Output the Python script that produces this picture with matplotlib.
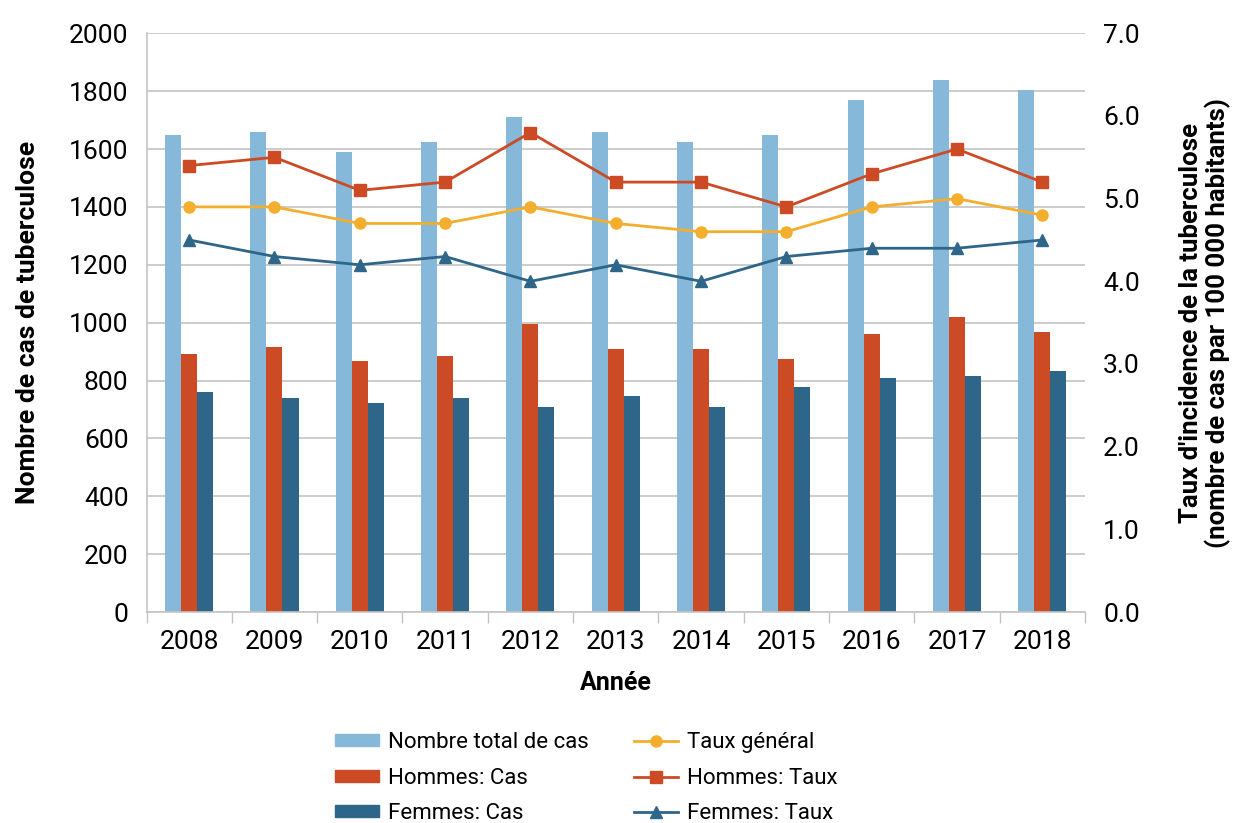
import numpy as np
import matplotlib
matplotlib.use("Agg")
import matplotlib.pyplot as plt
from matplotlib.lines import Line2D
from matplotlib.patches import Patch

plt.rcParams['font.family'] = ['Roboto', 'DejaVu Sans']

annees = ['2008', '2009', '2010', '2011', '2012', '2013', '2014', '2015', '2016', '2017', '2018']
total_cas = [1648, 1659, 1590, 1624, 1710, 1659, 1624, 1648, 1769, 1838, 1803]
hommes_cas = [893, 917, 869, 886, 997, 910, 910, 876, 962, 1021, 969]
femmes_cas = [759, 741, 724, 741, 707, 748, 707, 776, 807, 817, 834]
taux_general = [4.9, 4.9, 4.7, 4.7, 4.9, 4.7, 4.6, 4.6, 4.9, 5.0, 4.8]
hommes_taux = [5.4, 5.5, 5.1, 5.2, 5.8, 5.2, 5.2, 4.9, 5.3, 5.6, 5.2]
femmes_taux = [4.5, 4.3, 4.2, 4.3, 4.0, 4.2, 4.0, 4.3, 4.4, 4.4, 4.5]

c_total = '#85b8d9'
c_hommes = '#cc4b25'
c_femmes = '#2e6689'
c_general = '#f4ae2e'
c_grid = '#c4c4c4'

W, H = 1234, 823
fig = plt.figure(figsize=(W / 100, H / 100), dpi=100)
ax = fig.add_axes([146.5 / W, (H - 612) / H, (1085 - 146.5) / W, (612 - 33.3) / H])

x = np.arange(len(annees))
bw = 0.188
ax.bar(x - bw, total_cas, bw, color=c_total, zorder=2)
ax.bar(x, hommes_cas, bw, color=c_hommes, zorder=2)
ax.bar(x + bw, femmes_cas, bw, color=c_femmes, zorder=2)

ax.set_xlim(-0.5, len(annees) - 0.5)
ax.set_ylim(0, 2000)
ax.set_yticks(np.arange(0, 2001, 200))
ax.yaxis.grid(True, color=c_grid, linewidth=1.2, zorder=0)
ax.set_axisbelow(True)
ax.set_xticks(x)
ax.set_xticklabels(annees)
ax.set_xticks(np.arange(-0.5, len(annees), 1), minor=True)
ax.tick_params(axis='x', which='major', length=0, pad=13, labelsize=19)
ax.tick_params(axis='x', which='minor', length=8, width=1, color=c_grid, direction='out')
ax.tick_params(axis='y', length=0, pad=13, labelsize=19)
for s in ['top', 'right']:
    ax.spines[s].set_visible(False)
for s in ['left', 'bottom']:
    ax.spines[s].set_color(c_grid)
    ax.spines[s].set_linewidth(1.2)

ax.set_xlabel('Année', fontsize=18, fontweight='bold', labelpad=12)
ax.set_ylabel('Nombre de cas de tuberculose', fontsize=19, fontweight='bold', labelpad=21)

ax2 = ax.twinx()
ax2.plot(x, taux_general, color=c_general, lw=2, marker='o', ms=8)
ax2.plot(x, hommes_taux, color=c_hommes, lw=2, marker='s', ms=8)
ax2.plot(x, femmes_taux, color=c_femmes, lw=2, marker='^', ms=8)
ax2.set_ylim(0, 7)
ax2.set_yticks(np.arange(0, 7.1, 1))
ax2.set_yticklabels([f'{v:.1f}' for v in np.arange(0, 7.1, 1)])
ax2.tick_params(axis='y', length=0, pad=13, labelsize=19)
for s in ax2.spines.values():
    s.set_visible(False)
ax2.set_ylabel("Taux d'incidence de la tuberculose\n(nombre de cas par 100 000 habitants)",
               fontsize=18.5, fontweight='bold', labelpad=28, linespacing=1.1)

handles = [
    Patch(color=c_total, label='Nombre total de cas'),
    Patch(color=c_hommes, label='Hommes: Cas'),
    Patch(color=c_femmes, label='Femmes: Cas'),
    Line2D([], [], color=c_general, lw=2, marker='o', ms=8, label='Taux général'),
    Line2D([], [], color=c_hommes, lw=2, marker='s', ms=8, label='Hommes: Taux'),
    Line2D([], [], color=c_femmes, lw=2, marker='^', ms=8, label='Femmes: Taux'),
]
fig.legend(handles=handles, ncol=2, loc='upper left', bbox_to_anchor=(335 / W, (H - 732) / H),
           frameon=False, fontsize=16, handlelength=2.0, handleheight=0.45,
           handletextpad=0.4, columnspacing=2.0, labelspacing=0.66, borderpad=0, borderaxespad=0)

fig.savefig('out.png', dpi=100)
